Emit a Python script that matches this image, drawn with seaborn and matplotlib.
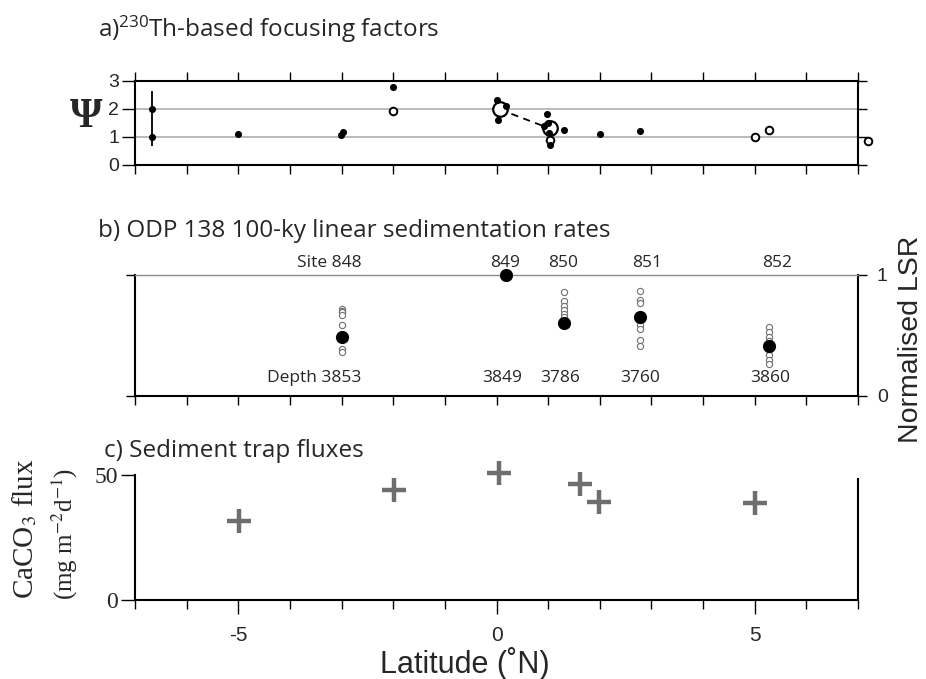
import numpy as np
import pandas as pd
import matplotlib
matplotlib.use("Agg")
import matplotlib.pyplot as plt
import seaborn as sns

# ---------------- data ----------------
# a) 230Th-based focusing factors
psi_fill_lat = [-6.67, -6.67, -5.0, -3.02, -2.98, -2.0, 0.0, 0.19, 0.03,
                0.98, 0.92, 1.0, 1.02, 1.03, 1.3, 2.0, 2.77]
psi_fill_val = [2.0, 1.0, 1.1, 1.08, 1.17, 2.79, 2.31, 2.1, 1.6,
                1.81, 1.39, 1.5, 1.15, 0.71, 1.25, 1.1, 1.2]
psi_open_lat = [-2.0, 1.03, 5.0, 5.28, 7.2]
psi_open_val = [1.91, 0.89, 1.0, 1.26, 0.86]
psi_big_lat = [0.06, 1.03]
psi_big_val = [1.98, 1.30]
psi_err_lat = [-6.67]
psi_err_lo = [0.68]
psi_err_hi = [2.64]

# b) ODP 138 100-ky linear sedimentation rates
sites = ["848", "849", "850", "851", "852"]
site_lat = [-3.0, 0.18, 1.3, 2.78, 5.28]
site_depth = ["3853", "3849", "3786", "3760", "3860"]
lsr_mean = [0.49, 1.0, 0.6, 0.65, 0.41]
lsr_samples = {
    "848": [0.72, 0.70, 0.69, 0.67, 0.585, 0.39, 0.36],
    "849": [],
    "850": [0.857, 0.785, 0.746, 0.71, 0.68, 0.655],
    "851": [0.867, 0.79, 0.765, 0.585, 0.55, 0.46, 0.41],
    "852": [0.57, 0.53, 0.49, 0.45, 0.38, 0.34, 0.30, 0.26],
}

# c) Sediment trap fluxes
trap_lat = [-4.98, -1.98, 0.05, 1.61, 1.99, 5.0]
trap_flux = [31.6, 44.0, 50.9, 46.3, 39.3, 39.0]

# ---------------- style ----------------
sns.set_theme(style="white")
plt.rcParams["font.family"] = ["Liberation Sans", "DejaVu Sans"]
plt.rcParams["mathtext.fontset"] = "custom"
plt.rcParams["mathtext.rm"] = "Open Sans"
plt.rcParams["mathtext.it"] = "Open Sans"
plt.rcParams["mathtext.bf"] = "Open Sans"

fig = plt.figure(figsize=(9.26, 6.79), dpi=100)
L, W = 0.1458, 0.7808
axA = fig.add_axes([L, 0.7570, W, 0.1241])
axB = fig.add_axes([L, 0.4172, W, 0.1778])
axC = fig.add_axes([L, 0.1163, W, 0.1841])

for ax in (axA, axB, axC):
    ax.set_xlim(-7, 7)
    ax.set_facecolor("white")
    for s in ax.spines.values():
        s.set_color("black")
        s.set_linewidth(1.5)

xt = np.arange(-7, 8, 1)
title_kw = dict(family="Open Sans", fontsize=17.5, va="baseline", ha="left")

# ---------- panel a ----------
axA.set_ylim(0, 3)
for g in (1, 2):
    axA.axhline(g, color="#b4b4b4", lw=1.3, zorder=0)
axA.vlines(psi_err_lat, psi_err_lo, psi_err_hi, color="black", lw=1.3, zorder=2)
sns.lineplot(x=psi_big_lat, y=psi_big_val, ax=axA, color="black", lw=1.3,
             linestyle=(0, (4, 3)), zorder=2, sort=False)
sns.scatterplot(x=psi_big_lat, y=psi_big_val, ax=axA, color="white", s=110,
                edgecolor="black", linewidth=1.6, zorder=3)
sns.scatterplot(x=psi_open_lat, y=psi_open_val, ax=axA, color="white", s=30,
                edgecolor="black", linewidth=1.4, zorder=4, clip_on=False)
sns.scatterplot(x=psi_fill_lat, y=psi_fill_val, ax=axA, color="black", s=26,
                edgecolor="black", linewidth=0, zorder=5)
axA.set_xticks(xt)
axA.set_yticks([0, 1, 2, 3])
axA.tick_params(axis="x", which="both", direction="out", top=True, bottom=True,
                length=6.5, width=1, labelbottom=False, color="black")
axA.tick_params(axis="y", which="both", direction="out", left=True, right=False,
                length=9.5, width=1, labelsize=14, pad=2, color="black")
axA.yaxis.set_ticks_position("left")
axAr = axA.secondary_yaxis("right")
axAr.set_yticks([0, 1, 2, 3])
axAr.tick_params(direction="out", length=6.5, width=1, labelright=False, color="black")
axAr.spines["right"].set_visible(False)
axA.set_xlabel("")
axA.set_ylabel("")
fig.text(0.093, 0.828, "\u03a8", family="Liberation Serif", fontsize=30,
         fontweight="bold", ha="center", va="center")
fig.text(0.1058, 0.9455, r"a)$^{230}$Th-based focusing factors", **title_kw)

# ---------- panel b ----------
axB.set_ylim(0, 1)
axB.spines["top"].set_color("#8c8c8c")
axB.spines["top"].set_linewidth(1.0)
rows = []
for sname, lat in zip(sites, site_lat):
    for v in lsr_samples[sname]:
        rows.append({"lat": lat, "lsr": v})
df_s = pd.DataFrame(rows)
sns.scatterplot(data=df_s, x="lat", y="lsr", ax=axB, color="white", s=20,
                edgecolor="#707070", linewidth=0.8, zorder=3)
sns.scatterplot(x=site_lat, y=lsr_mean, ax=axB, color="black", s=90,
                edgecolor="black", linewidth=0, zorder=4, clip_on=False)
site_dx = [0.0, -0.02, -0.01, 0.13, 0.15]
depth_dx = [0.0, -0.08, -0.07, 0.0, 0.02]
tf = dict(family="Open Sans", fontsize=12.5, va="center")
for i, (sname, lat, dep) in enumerate(zip(sites, site_lat, site_depth)):
    if i == 0:
        axB.text(lat + 0.39, 1.10, "Site " + sname, ha="right", clip_on=False, **tf)
        axB.text(lat + 0.39, 0.147, "Depth " + dep, ha="right", **tf)
    else:
        axB.text(lat + site_dx[i], 1.10, sname, ha="center", clip_on=False, **tf)
        axB.text(lat + depth_dx[i], 0.147, dep, ha="center", **tf)
axB.set_xticks(xt)
axB.set_yticks([0, 1])
axB.tick_params(axis="x", direction="out", bottom=True, top=False, length=6.5,
                width=1, labelbottom=False, color="black")
axB.tick_params(axis="y", direction="out", left=True, right=True, length=6.5,
                width=1, labelleft=False, labelright=True, labelsize=14, pad=7,
                color="black")
axB.set_xlabel("")
axB.set_ylabel("")
fig.text(0.984, 0.500, "Normalised LSR", rotation=90, fontsize=20.5,
         ha="center", va="center")
fig.text(0.1058, 0.651, "b) ODP 138 100-ky linear sedimentation rates", **title_kw)

# ---------- panel c ----------
axC.set_ylim(0, 50)
axC.spines["top"].set_visible(False)
axC.spines["right"].set_bounds(0, 48.3)
sns.scatterplot(x=trap_lat, y=trap_flux, ax=axC, marker="+", s=280,
                color="#6e6e6e", linewidth=3.2, zorder=3, clip_on=False)
axC.set_xticks([-5, 0, 5])
axC.set_xticklabels(["-5", "0", "5"])
axC.set_xticks(xt, minor=True)
axC.set_yticks([0, 50])
axC.tick_params(axis="x", which="major", direction="out", bottom=True, length=10,
                width=1, labelsize=15, pad=8.5, color="black")
axC.tick_params(axis="x", which="minor", direction="out", bottom=True, length=6.5,
                width=1, color="black")
axC.tick_params(axis="y", direction="out", left=True, right=False, length=10,
                width=1, labelsize=17, pad=2, color="black")
for lab in axC.get_yticklabels():
    lab.set_family("Liberation Serif")
axC.set_xlabel("")
axC.set_ylabel("")
fig.text(0.502, 0.0085, "Latitude (\u02daN)", fontsize=22, ha="center",
         va="baseline")
fig.text(0.027, 0.222, r"CaCO$_3$ flux", family="Liberation Serif", fontsize=21,
         rotation=90, ha="center", va="center", math_fontfamily="stix")
fig.text(0.070, 0.214, r"(mg m$^{-2}$d$^{-1}$)", family="Liberation Serif",
         fontsize=18, rotation=90, ha="center", va="center", math_fontfamily="stix")
fig.text(0.1123, 0.327, "c) Sediment trap fluxes", **title_kw)

fig.savefig("out.png", dpi=100, facecolor="white")
